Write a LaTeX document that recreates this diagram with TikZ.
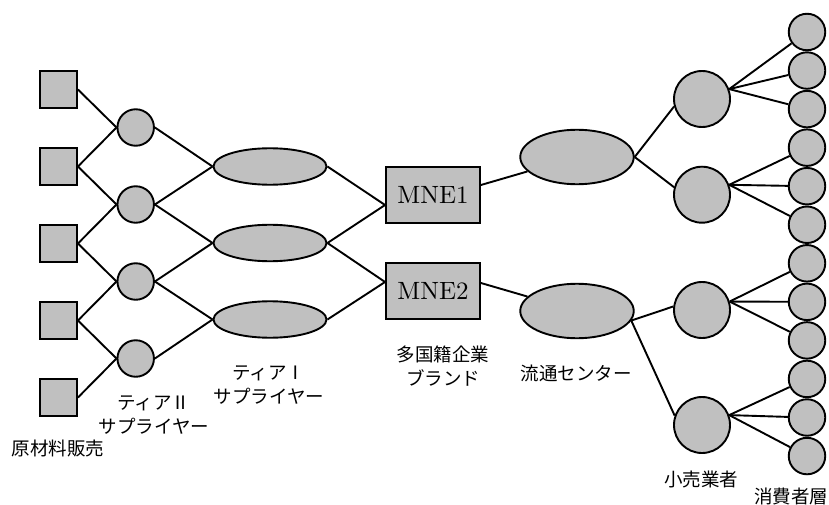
\documentclass[tikz,border=0pt]{standalone}
\usepackage{fontspec}
\newfontfamily\cjk{Noto Sans CJK JP}
\newfontfamily\mnefont[Extension=.otf]{lmroman10-regular}
\usetikzlibrary{shapes.geometric,calc}
\definecolor{nodegray}{RGB}{192,192,192}
\begin{document}
\begin{tikzpicture}[x=1pt,y=-1pt,
  every path/.style={line width=1.9pt},
  conn/.style={line width=1.9pt,black},
  sq/.style={draw,fill=nodegray,rectangle,minimum size=37pt,inner sep=0pt},
  smallc/.style={draw,fill=nodegray,circle,minimum size=36.5pt,inner sep=0pt},
  ell/.style={draw,fill=nodegray,ellipse,minimum width=113pt,minimum height=36.5pt,inner sep=0pt},
  mne/.style={draw,fill=nodegray,rectangle,minimum width=94pt,minimum height=56pt,inner sep=0pt,font=\mnefont\fontsize{25}{28}\selectfont},
  dc/.style={draw,fill=nodegray,ellipse,minimum width=113.5pt,minimum height=54.5pt,inner sep=0pt},
  ret/.style={draw,fill=nodegray,circle,minimum size=56pt,inner sep=0pt},
  con/.style={draw,fill=nodegray,circle,minimum size=36.5pt,inner sep=0pt},
  lbl/.style={font=\cjk\fontsize{18.5}{24}\selectfont,align=center,inner sep=0pt}
]
\useasboundingbox (0,0) rectangle (829,505);
% raw material squares
\foreach \i/\y in {1/89.5,2/166.5,3/243.5,4/320.5,5/397.5}
  \node[sq] (s\i) at (58.5,\y) {};
% tier II circles
\foreach \i/\y in {1/127.5,2/204.5,3/281.5,4/358.5}
  \node[smallc] (b\i) at (135.7,\y) {};
% tier I ellipses
\foreach \i/\y in {1/166.5,2/243,3/319.5}
  \node[ell] (a\i) at (270,\y) {};
% MNE boxes
\node[mne] (m1) at (433,195) {MNE1};
\node[mne] (m2) at (433,291) {MNE2};
% distribution centres
\node[dc] (d1) at (577,157) {};
\node[dc] (d2) at (577,311) {};
% retailers
\node[ret] (r1) at (702,99) {};
\node[ret] (r2) at (702,194.7) {};
\node[ret] (r3) at (702,310) {};
\node[ret] (r4) at (702,425) {};
% consumers
\foreach \i in {1,...,12}
  \node[con] (c\i) at (807,{32+38.55*(\i-1)}) {};
% connection points
\coordinate (m1in) at ($(m1.west)+(0,10)$);
\coordinate (m2in) at ($(m2.west)+(0,-9)$);
\coordinate (m1out) at ($(m1.east)+(0,-10)$);
\coordinate (m2out) at ($(m2.east)+(0,-8)$);
% squares -> tier II
\draw[conn] (s1.east) -- (b1.west);
\draw[conn] (s2.east) -- (b1.west);
\draw[conn] (s2.east) -- (b2.west);
\draw[conn] (s3.east) -- (b2.west);
\draw[conn] (s3.east) -- (b3.west);
\draw[conn] (s4.east) -- (b3.west);
\draw[conn] (s4.east) -- (b4.west);
\draw[conn] (s5.east) -- (b4.west);
% tier II -> tier I
\draw[conn] (b1.east) -- (a1.west);
\draw[conn] (b2.east) -- (a1.west);
\draw[conn] (b2.east) -- (a2.west);
\draw[conn] (b3.east) -- (a2.west);
\draw[conn] (b3.east) -- (a3.west);
\draw[conn] (b4.east) -- (a3.west);
% tier I -> MNE
\draw[conn] (a1.east) -- (m1in);
\draw[conn] (a2.east) -- (m1in);
\draw[conn] (a2.east) -- (m2in);
\draw[conn] (a3.east) -- (m2in);
% MNE -> DC
\draw[conn] (m1out) -- (d1);
\draw[conn] (m2out) -- (d2);
% DC -> retailers
\draw[conn] (d1.east) -- (r1.195);
\draw[conn] (d1.east) -- (r2.165);
\draw[conn] (d2.-10) -- (r3.173);
\draw[conn] (d2.-10) -- (r4.161);
% retailers -> consumers
\draw[conn] (r1.20) -- (c1);
\draw[conn] (r1.20) -- (c2);
\draw[conn] (r1.20) -- (c3);
\draw[conn] (r2.20) -- (c4);
\draw[conn] (r2.20) -- (c5);
\draw[conn] (r2.20) -- (c6);
\draw[conn] (r3.17) -- (c7);
\draw[conn] (r3.17) -- (c8);
\draw[conn] (r3.17) -- (c9);
\draw[conn] (r4.20) -- (c10);
\draw[conn] (r4.20) -- (c11);
\draw[conn] (r4.20) -- (c12);
% labels
\node[lbl] (lt2) at (154,415) {ティアⅡ\\サプライヤー};
\node[lbl] (lraw) at (58,448) {原材料販売};
\node[lbl] (lt1) at (269,385.5) {ティアⅠ\\サプライヤー};
\node[lbl] (lmne) at (443,366) {多国籍企業\\ブランド};
\node[lbl] (ldc) at (576,373) {流通センター};
\node[lbl] (lret) at (701,479) {小売業者};
\node[lbl] (lcon) at (791,496) {消費者層};
\end{tikzpicture}
\end{document}
